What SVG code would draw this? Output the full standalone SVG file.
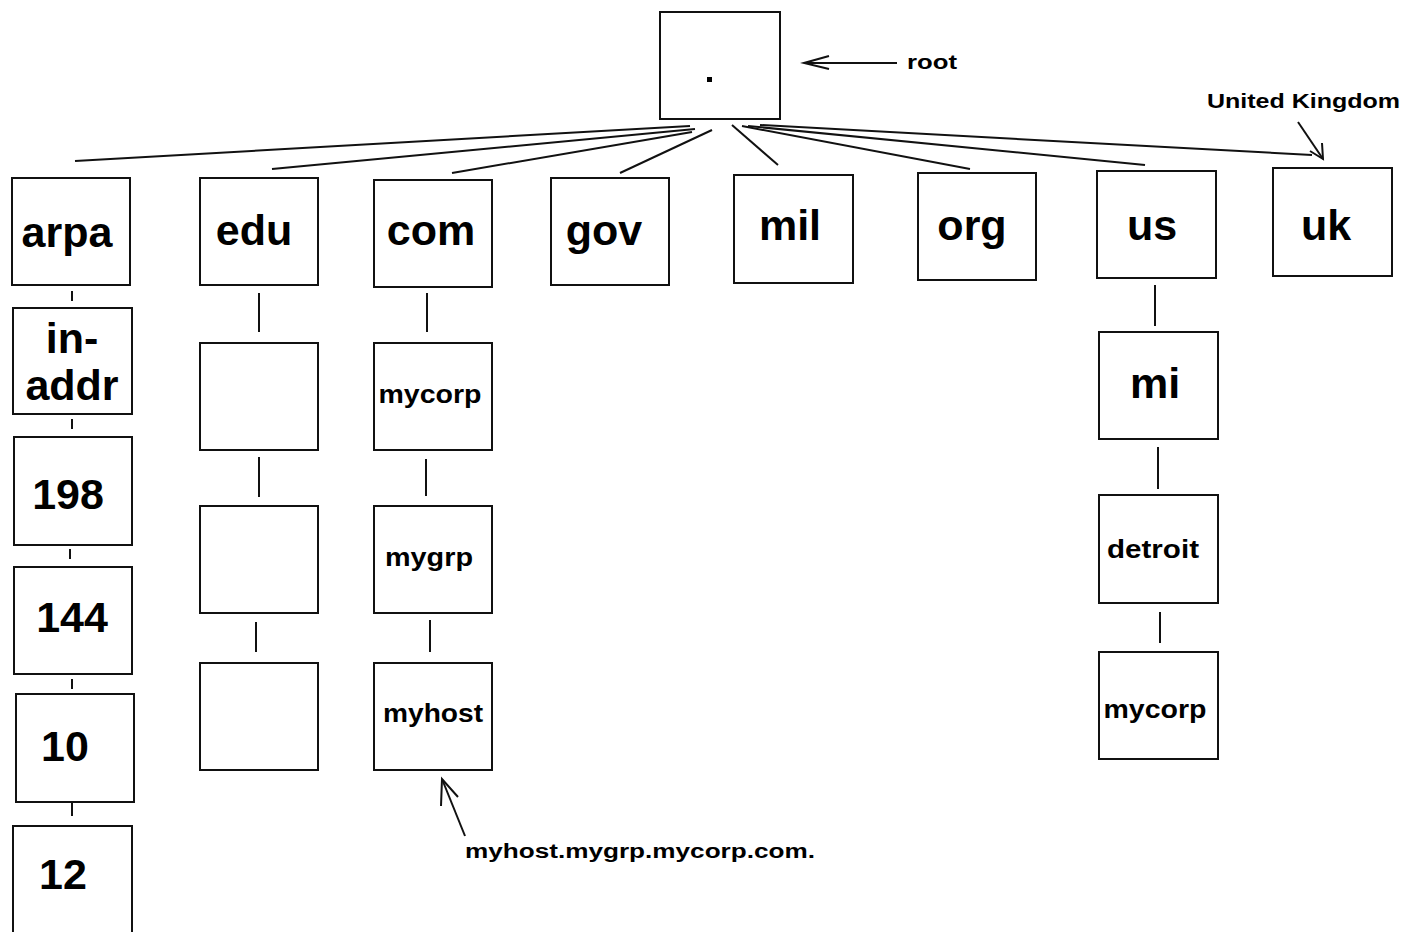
<svg xmlns="http://www.w3.org/2000/svg" width="1418" height="932" viewBox="0 0 1418 932">
<style>
.box{fill:#fff;stroke:#111;stroke-width:2}
.big{font-family:"Liberation Sans",Arial,sans-serif;font-weight:bold;font-size:43px;fill:#000;text-anchor:middle}
.med{font-family:"Liberation Sans",Arial,sans-serif;font-weight:bold;font-size:25px;fill:#000;text-anchor:middle}
.sm{font-family:"Liberation Sans",Arial,sans-serif;font-weight:bold;font-size:20px;fill:#000}
.ln{stroke:#111;stroke-width:2;fill:none}
</style>
<rect width="1418" height="932" fill="#fff"/>
<g id="connectors" class="ln">
<line x1="690" y1="126" x2="75" y2="161"/>
<line x1="695" y1="129" x2="272" y2="169"/>
<line x1="692" y1="132" x2="452" y2="173"/>
<line x1="712" y1="130" x2="620" y2="173"/>
<line x1="732" y1="125" x2="778" y2="165"/>
<line x1="742" y1="126" x2="970" y2="169"/>
<line x1="748" y1="126" x2="1145" y2="165"/>
<line x1="760" y1="125" x2="1312" y2="155"/>
<line x1="72" y1="291" x2="72" y2="301"/>
<line x1="72" y1="419" x2="72" y2="429"/>
<line x1="70" y1="549" x2="70" y2="559"/>
<line x1="72" y1="679" x2="72" y2="689"/>
<line x1="72" y1="803" x2="72" y2="816"/>
<line x1="259" y1="293" x2="259" y2="332"/>
<line x1="259" y1="457" x2="259" y2="497"/>
<line x1="256" y1="622" x2="256" y2="652"/>
<line x1="427" y1="293" x2="427" y2="332"/>
<line x1="426" y1="459" x2="426" y2="496"/>
<line x1="430" y1="620" x2="430" y2="652"/>
<line x1="1155" y1="285" x2="1155" y2="326"/>
<line x1="1158" y1="447" x2="1158" y2="489"/>
<line x1="1160" y1="612" x2="1160" y2="643"/>
<line x1="897" y1="63" x2="804" y2="63"/>
<polyline points="829,56 804,63 829,69"/>
<line x1="465" y1="836" x2="442" y2="779"/>
<polyline points="441,806 442,779 458,797"/>
<line x1="1298" y1="122" x2="1323" y2="159"/>
<polyline points="1310,151 1323,159 1322,143"/>
</g>
<g id="root"><rect class="box" x="660" y="12" width="120" height="107"/><rect x="707" y="77" width="5" height="5" fill="#000"/></g>
<g id="root-label"><text class="sm" x="907" y="69" textLength="50" lengthAdjust="spacingAndGlyphs">root</text></g>
<g id="uk-label"><text class="sm" x="1207" y="108" textLength="193" lengthAdjust="spacingAndGlyphs">United Kingdom</text></g>
<g id="arpa"><rect class="box" x="12" y="178" width="118" height="107"/><text class="big" x="67" y="247">arpa</text></g>
<g id="in-addr"><rect class="box" x="13" y="308" width="119" height="106"/><text class="big" x="72" y="353">in-</text><text class="big" x="72" y="400">addr</text></g>
<g id="n198"><rect class="box" x="14" y="437" width="118" height="108"/><text class="big" x="68" y="509">198</text></g>
<g id="n144"><rect class="box" x="14" y="567" width="118" height="107"/><text class="big" x="72" y="632">144</text></g>
<g id="n10"><rect class="box" x="16" y="694" width="118" height="108"/><text class="big" x="65" y="761">10</text></g>
<g id="n12"><rect class="box" x="13" y="826" width="119" height="120"/><text class="big" x="63" y="889">12</text></g>
<g id="edu"><rect class="box" x="200" y="178" width="118" height="107"/><text class="big" x="254" y="245">edu</text></g>
<g id="edu1"><rect class="box" x="200" y="343" width="118" height="107"/></g>
<g id="edu2"><rect class="box" x="200" y="506" width="118" height="107"/></g>
<g id="edu3"><rect class="box" x="200" y="663" width="118" height="107"/></g>
<g id="com"><rect class="box" x="374" y="180" width="118" height="107"/><text class="big" x="431" y="245">com</text></g>
<g id="mycorp"><rect class="box" x="374" y="343" width="118" height="107"/><text class="med" x="430" y="403" textLength="103" lengthAdjust="spacingAndGlyphs">mycorp</text></g>
<g id="mygrp"><rect class="box" x="374" y="506" width="118" height="107"/><text class="med" x="429" y="566" textLength="88" lengthAdjust="spacingAndGlyphs">mygrp</text></g>
<g id="myhost"><rect class="box" x="374" y="663" width="118" height="107"/><text class="med" x="433" y="722" textLength="100" lengthAdjust="spacingAndGlyphs">myhost</text></g>
<g id="fqdn-label"><text class="sm" x="465" y="858" textLength="350" lengthAdjust="spacingAndGlyphs">myhost.mygrp.mycorp.com.</text></g>
<g id="gov"><rect class="box" x="551" y="178" width="118" height="107"/><text class="big" x="604" y="245">gov</text></g>
<g id="mil"><rect class="box" x="734" y="175" width="119" height="108"/><text class="big" x="790" y="240">mil</text></g>
<g id="org"><rect class="box" x="918" y="173" width="118" height="107"/><text class="big" x="972" y="240">org</text></g>
<g id="us"><rect class="box" x="1097" y="171" width="119" height="107"/><text class="big" x="1152" y="240">us</text></g>
<g id="uk"><rect class="box" x="1273" y="168" width="119" height="108"/><text class="big" x="1326" y="240">uk</text></g>
<g id="mi"><rect class="box" x="1099" y="332" width="119" height="107"/><text class="big" x="1155" y="398">mi</text></g>
<g id="detroit"><rect class="box" x="1099" y="495" width="119" height="108"/><text class="med" x="1153" y="558" textLength="92" lengthAdjust="spacingAndGlyphs">detroit</text></g>
<g id="us-mycorp"><rect class="box" x="1099" y="652" width="119" height="107"/><text class="med" x="1155" y="718" textLength="103" lengthAdjust="spacingAndGlyphs">mycorp</text></g>
</svg>
